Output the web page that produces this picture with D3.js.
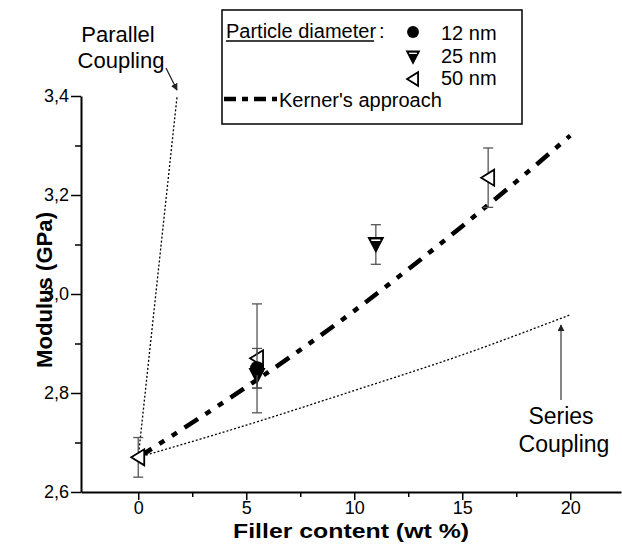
<!DOCTYPE html>
<html><head><meta charset="utf-8">
<script src="https://cdn.jsdelivr.net/npm/d3@7"></script>
<style>
body{margin:0;background:#fff}
text{font-family:"Liberation Sans",Arial,Helvetica,sans-serif;fill:#000}
</style>
</head><body>
<svg id="chart" width="622" height="544"></svg>
<script>
// Axis ticks
const xTicks = [0, 5, 10, 15, 20];
const xMinorTicks = [2.5, 7.5, 12.5, 17.5];
const yTicks = [2.6, 2.8, 3.0, 3.2, 3.4];
const yMinorTicks = [2.7, 2.9, 3.1, 3.3];

// Measured moduli (GPa) with error bars, per particle diameter
const x12 = [5.5],          y12 = [2.85],              e12 = [0.04];
const x25 = [5.5, 11],      y25 = [2.835, 3.10],       e25 = [0.025, 0.04];
const x50 = [0, 5.5, 16.2], y50 = [2.67, 2.87, 3.235], e50 = [0.04, 0.11, 0.06];

// Model curves
const kernerX = [0, 2.5, 5, 7.5, 10, 12.5, 15, 17.5, 20];
const kernerY = [2.67, 2.74, 2.812, 2.887, 2.966, 3.05, 3.137, 3.227, 3.32];
const seriesX = [0, 5, 10, 15, 20];
const seriesY = [2.67, 2.735, 2.805, 2.877, 2.958];
const parallelX = [0, 1.8];
const parallelY = [2.67, 3.4];

const svg = d3.select("#chart");
const x = d3.scaleLinear().domain([-2.65, 22.35]).range([81, 621]);
const y = d3.scaleLinear().domain([2.6, 3.4]).range([492, 96]);
const fmt = v => d3.format(".1f")(v).replace(".", ",");

svg.append("defs").append("marker")
  .attr("id", "arrow").attr("viewBox", "0 0 10 10").attr("refX", 9).attr("refY", 5)
  .attr("markerWidth", 7).attr("markerHeight", 7).attr("markerUnits", "userSpaceOnUse")
  .attr("orient", "auto")
  .append("path").attr("d", "M0,0L10,5L0,10Z").attr("fill", "#222");

// Axes
const gx = svg.append("g").attr("transform", `translate(0,${y(2.6)})`);
gx.call(d3.axisBottom(x).tickValues(xTicks).tickSize(8).tickSizeOuter(0).tickPadding(1).tickFormat(d3.format("d")));
gx.append("g").call(d3.axisBottom(x).tickValues(xMinorTicks).tickSize(5).tickFormat("")).select(".domain").remove();
const gy = svg.append("g").attr("transform", `translate(${x(-2.65)},0)`);
gy.call(d3.axisLeft(y).tickValues(yTicks).tickSize(10).tickSizeOuter(0).tickPadding(2).tickFormat(fmt));
gy.append("g").call(d3.axisLeft(y).tickValues(yMinorTicks).tickSize(6).tickFormat("")).select(".domain").remove();
svg.selectAll(".domain").attr("stroke", "#000").attr("stroke-width", 2);
svg.selectAll(".tick line").attr("stroke", "#000").attr("stroke-width", 1.5);
svg.selectAll(".tick text").attr("font-size", 18).attr("font-family", '"Liberation Sans",Arial,sans-serif').attr("fill", "#000");

// Axis titles
svg.append("text").attr("x", 351).attr("y", 538).attr("text-anchor", "middle")
  .attr("font-size", 21).attr("font-weight", "bold")
  .attr("textLength", 236).attr("lengthAdjust", "spacingAndGlyphs").text("Filler content (wt %)");
svg.append("text").attr("transform", "translate(52,290) rotate(-90)").attr("text-anchor", "middle")
  .attr("font-size", 22).attr("font-weight", "bold")
  .attr("textLength", 156).attr("lengthAdjust", "spacingAndGlyphs").text("Modulus (GPa)");

// Model lines
const line = d3.line().x(d => x(d[0])).y(d => y(d[1]));
svg.append("path").datum(d3.zip(parallelX, parallelY)).attr("d", line)
  .attr("fill", "none").attr("stroke", "#000").attr("stroke-width", 1.3).attr("stroke-dasharray", "2,2");
svg.append("path").datum(d3.zip(seriesX, seriesY)).attr("d", line.curve(d3.curveMonotoneX))
  .attr("fill", "none").attr("stroke", "#000").attr("stroke-width", 1.3).attr("stroke-dasharray", "2,2");
svg.append("path").datum(d3.zip(kernerX, kernerY)).attr("d", line.curve(d3.curveMonotoneX))
  .attr("fill", "none").attr("stroke", "#000").attr("stroke-width", 4.5).attr("stroke-dasharray", "16,9,6,9,6,9");

// Symbol shapes
const circleSym = (g, s) => g.append("circle").attr("r", 7 * s).attr("fill", "#000");
const downTri = (g, s) => {
  g.append("path").attr("d", `M${-7.5*s},${-7*s}L${7.5*s},${-7*s}L0,${7.5*s}Z`)
    .attr("fill", "#000").attr("stroke", "#000").attr("stroke-width", 1.2);
  g.append("line").attr("x1", -4.5*s).attr("x2", 4.5*s).attr("y1", -4.3*s).attr("y2", -4.3*s)
    .attr("stroke", "#fff").attr("stroke-width", 1.6*s);
};
const leftTri = (g, s) => g.append("path").attr("d", `M${-7*s},0L${6*s},${-8*s}L${6*s},${8*s}Z`)
  .attr("fill", "#fff").attr("stroke", "#000").attr("stroke-width", 1.8);

function drawSeries(xs, ys, es, sym) {
  const pts = d3.zip(xs, ys, es);
  const g = svg.append("g");
  pts.forEach(([px, py, pe]) => {
    const eb = g.append("g").attr("stroke", "#555").attr("stroke-width", 1.3);
    eb.append("line").attr("x1", x(px)).attr("x2", x(px)).attr("y1", y(py - pe)).attr("y2", y(py + pe));
    [py - pe, py + pe].forEach(v => eb.append("line")
      .attr("x1", x(px) - 5).attr("x2", x(px) + 5).attr("y1", y(v)).attr("y2", y(v)));
  });
  pts.forEach(([px, py]) => sym(g.append("g").attr("transform", `translate(${x(px)},${y(py)})`), 1));
}
drawSeries(x50, y50, e50, leftTri);
drawSeries(x25, y25, e25, downTri);
drawSeries(x12, y12, e12, circleSym);

// Annotations
svg.append("text").attr("x", 118).attr("y", 42).attr("text-anchor", "middle").attr("font-size", 22).text("Parallel");
svg.append("text").attr("x", 121).attr("y", 68).attr("text-anchor", "middle").attr("font-size", 22).text("Coupling");
svg.append("line").attr("x1", 166).attr("y1", 68).attr("x2", 177).attr("y2", 90)
  .attr("stroke", "#222").attr("stroke-width", 1.2).attr("marker-end", "url(#arrow)");
svg.append("text").attr("x", 561).attr("y", 424).attr("text-anchor", "middle").attr("font-size", 23).text("Series");
svg.append("text").attr("x", 564).attr("y", 452).attr("text-anchor", "middle").attr("font-size", 23).text("Coupling");
svg.append("line").attr("x1", 561).attr("y1", 400).attr("x2", 561).attr("y2", 325)
  .attr("stroke", "#444").attr("stroke-width", 1.3).attr("marker-end", "url(#arrow)");

// Legend
const lg = svg.append("g");
lg.append("rect").attr("x", 222).attr("y", 10).attr("width", 300).attr("height", 114)
  .attr("fill", "#fff").attr("stroke", "#000").attr("stroke-width", 1.5);
lg.append("text").attr("x", 226).attr("y", 38).attr("font-size", 20).text("Particle diameter");
lg.append("line").attr("x1", 226).attr("x2", 374).attr("y1", 41).attr("y2", 41).attr("stroke", "#000").attr("stroke-width", 1.3);
lg.append("text").attr("x", 379).attr("y", 38).attr("font-size", 20).text(":");
const legendRows = [["12 nm", circleSym, 32, 40], ["25 nm", downTri, 57, 63], ["50 nm", leftTri, 79, 85]];
legendRows.forEach(([label, sym, sy, ty]) => {
  sym(lg.append("g").attr("transform", `translate(413,${sy})`), 0.85);
  lg.append("text").attr("x", 441).attr("y", ty).attr("font-size", 20).text(label);
});
lg.append("line").attr("x1", 224).attr("x2", 277).attr("y1", 99).attr("y2", 99)
  .attr("stroke", "#000").attr("stroke-width", 4.5).attr("stroke-dasharray", "12,6,6,6");
lg.append("text").attr("x", 279).attr("y", 107).attr("font-size", 20).text("Kerner's approach");
</script>
</body></html>
